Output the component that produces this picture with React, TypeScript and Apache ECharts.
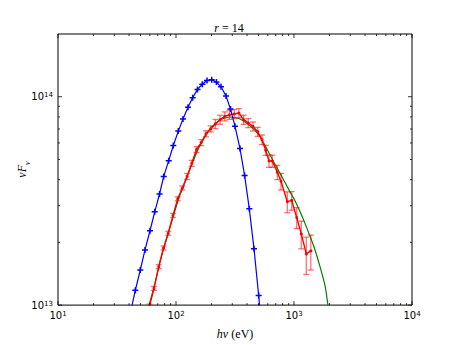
import React, { useEffect, useRef } from "react";
import * as echarts from "echarts";

// Blue model spectrum (photon energy in eV, nuFnu)
const blueEnergy = [41.2, 45.2, 49.8, 54.6, 60.2, 66.0, 72.5, 78.7, 86.7, 94.9, 104.6, 114.6, 126.4, 138.5, 152.1, 167.1, 183.1, 200.7, 220.0, 240.7, 265.3, 289.6, 316.0, 348.6, 381.4, 418.1, 458.1, 502.0, 551.0];
const blueFlux = [9.27e12, 1.177e13, 1.474e13, 1.839e13, 2.274e13, 2.803e13, 3.413e13, 4.147e13, 4.935e13, 5.831e13, 6.84e13, 7.82e13, 8.91e13, 9.9e13, 1.084e14, 1.148e14, 1.196e14, 1.206e14, 1.176e14, 1.116e14, 1.008e14, 8.72e13, 7.22e13, 5.64e13, 4.19e13, 2.896e13, 1.866e13, 1.111e13, 6.06e12];

// Red data points with errors
const redEnergy = [59.6, 65.1, 71.4, 78.4, 85.9, 94.3, 103.4, 113.3, 124.2, 136.1, 149.2, 163.5, 179.6, 196.8, 215.8, 236.5, 259.2, 284.1, 311.3, 341.3, 374.1, 410.0, 449.4, 492.6, 535.6, 575.7, 614.0, 654.8, 722.1, 775.9, 877.7, 956.1, 1054, 1153, 1271, 1388];
const redFlux = [9.89e12, 1.203e13, 1.529e13, 1.88e13, 2.213e13, 2.692e13, 3.238e13, 3.65e13, 4.147e13, 4.792e13, 5.58e13, 6.023e13, 6.642e13, 7.013e13, 7.405e13, 7.76e13, 8.054e13, 8.195e13, 8.258e13, 8.349e13, 7.76e13, 7.485e13, 7.204e13, 6.788e13, 6.223e13, 5.538e13, 4.914e13, 4.914e13, 4.345e13, 3.927e13, 3.135e13, 3.18e13, 2.634e13, 2.196e13, 1.761e13, 1.82e13];
const redError = [2.2e11, 2.6e11, 3.4e11, 4.1e11, 4.9e11, 5.9e11, 7.1e11, 8.0e11, 1.38e12, 1.59e12, 1.85e12, 2.0e12, 2.21e12, 2.33e12, 3.72e12, 3.9e12, 4.04e12, 4.11e12, 4.15e12, 4.19e12, 3.9e12, 3.76e12, 3.62e12, 3.41e12, 3.3e12, 3.1e12, 3.32e12, 3.32e12, 3.44e12, 3.57e12, 3.6e12, 3.27e12, 3.03e12, 3.34e12, 3.58e12, 3.47e12];

// Green fit curve
const modelEnergy = [56.8, 59.1, 66.4, 73.2, 80.7, 89.0, 98.1, 108.1, 119.2, 131.4, 144.9, 159.7, 176.1, 194.1, 214.0, 236.0, 260.2, 286.8, 316.2, 348.6, 384.3, 423.8, 467.2, 515.1, 567.8, 626.2, 690.2, 761.1, 838.9, 925.0, 1020, 1124, 1239, 1366, 1507, 1661, 1831, 1941, 2019];
const modelFlux = [9.07e12, 1.0e13, 1.27e13, 1.614e13, 1.963e13, 2.362e13, 2.843e13, 3.383e13, 3.896e13, 4.489e13, 5.171e13, 5.831e13, 6.429e13, 7.013e13, 7.405e13, 7.734e13, 7.904e13, 7.991e13, 7.948e13, 7.82e13, 7.568e13, 7.246e13, 6.9e13, 6.429e13, 5.831e13, 5.256e13, 4.74e13, 4.298e13, 3.876e13, 3.495e13, 3.169e13, 2.812e13, 2.467e13, 2.142e13, 1.839e13, 1.529e13, 1.243e13, 1.0e13, 8.87e12];

// Axes
const xMin = 10;
const xMax = 10000;
const yMin = 1e13;
const yMax = 2e14;
const xMajorTicks = [10, 100, 1000, 10000];
const yMajorTicks = [1e13, 1e14];
const minorMultipliers = [2, 3, 4, 5, 6, 7, 8, 9];

const PLUS = "path://M-3,-0.75H-0.75V-3H0.75V-0.75H3V0.75H0.75V3H-0.75V0.75H-3Z";

function powLabel(v: number) {
  const l = Math.log10(v);
  const e = Math.round(l);
  if (Math.abs(l - e) > 1e-6) return "";
  return `{b|10}{s|${e}}`;
}

const labelRich = {
  b: { fontSize: 10, fontFamily: "DejaVu Sans", color: "#000", lineHeight: 10, verticalAlign: "bottom" },
  s: { fontSize: 7, fontFamily: "DejaVu Sans", color: "#000", lineHeight: 7, padding: [0, 0, 6, 0], verticalAlign: "top" },
};

const serifItalic = { fontFamily: "Liberation Serif", fontStyle: "italic", fontWeight: "normal", fontSize: 12, color: "#000" };
const serifRoman = { fontFamily: "Liberation Serif", fontStyle: "normal", fontWeight: "normal", fontSize: 12, color: "#000" };

export default function App() {
  const ref = useRef<HTMLDivElement>(null);
  useEffect(() => {
    if (!ref.current) return;
    const chart = echarts.init(ref.current, undefined, { renderer: "svg" });
    const errData = redEnergy.map((e, i) => [e, redFlux[i] - redError[i], redFlux[i] + redError[i]]);
    const option: any = {
      animation: false,
      backgroundColor: "#fff",
      title: {
        text: "{i|r}{n| = 14}",
        left: "center",
        top: 17,
        textStyle: {
          fontWeight: "normal",
          rich: { i: serifItalic, n: serifRoman },
        },
      },
      grid: { left: 58, top: 34, width: 354, height: 275, show: true, borderColor: "#000", borderWidth: 1, backgroundColor: "#fff" },
      xAxis: {
        type: "log",
        logBase: 10,
        min: xMin,
        max: xMax,
        axisLine: { show: false },
        axisTick: { show: false },
        splitLine: { show: false },
        axisLabel: { formatter: powLabel, margin: 5, rich: labelRich },
        name: "{i|hν} {n|(eV)}",
        nameLocation: "middle",
        nameGap: 22,
        nameTextStyle: { rich: { i: serifItalic, n: serifRoman } },
      },
      yAxis: {
        type: "log",
        logBase: 10,
        min: yMin,
        max: yMax,
        axisLine: { show: false },
        axisTick: { show: false },
        splitLine: { show: false },
        axisLabel: { formatter: powLabel, margin: 5, rich: labelRich },
        name: "{i|νF}{sub|ν}",
        nameLocation: "middle",
        nameRotate: 90,
        nameGap: 30,
        nameMoveOverlap: false,
        nameTextStyle: {
          rich: {
            i: { ...serifItalic, lineHeight: 12, verticalAlign: "top" },
            sub: { ...serifItalic, fontSize: 8, lineHeight: 8, padding: [7, 0, 0, 0], verticalAlign: "top" },
          },
        },
      },
      series: [
        {
          type: "line",
          name: "fit",
          data: modelEnergy.map((e, i) => [e, modelFlux[i]]),
          showSymbol: false,
          symbol: "none",
          smooth: 0.3,
          lineStyle: { color: "#008000", width: 1.2 },
          z: 2,
        },
        {
          type: "custom",
          name: "errors",
          data: errData,
          encode: { x: 0, y: [1, 2] },
          z: 3,
          renderItem: (params: any, api: any) => {
            const x = api.value(0);
            const lo = api.coord([x, api.value(1)]);
            const hi = api.coord([x, api.value(2)]);
            const cs = params.coordSys;
            const top = cs.y;
            const bot = cs.y + cs.height;
            const y1 = Math.max(hi[1], top);
            const y2 = Math.min(lo[1], bot);
            if (y1 >= y2) return null;
            const st = { stroke: "rgba(255,0,0,0.55)", lineWidth: 1.3 };
            const children: any[] = [
              { type: "line", shape: { x1: lo[0], y1, x2: lo[0], y2 }, style: st },
            ];
            if (hi[1] >= top && hi[1] <= bot) children.push({ type: "line", shape: { x1: hi[0] - 3, y1: hi[1], x2: hi[0] + 3, y2: hi[1] }, style: st });
            if (lo[1] >= top && lo[1] <= bot) children.push({ type: "line", shape: { x1: lo[0] - 3, y1: lo[1], x2: lo[0] + 3, y2: lo[1] }, style: st });
            return { type: "group", children };
          },
        },
        {
          type: "line",
          name: "data",
          data: redEnergy.map((e, i) => [e, redFlux[i]]),
          symbol: "circle",
          symbolSize: 3,
          showAllSymbol: true,
          itemStyle: { color: "#ff0000" },
          lineStyle: { color: "#ff0000", width: 1.4 },
          z: 4,
        },
        {
          type: "line",
          name: "blue",
          data: blueEnergy.map((e, i) => [e, blueFlux[i]]),
          symbol: PLUS,
          symbolSize: 6,
          showAllSymbol: true,
          itemStyle: { color: "#0000ff" },
          lineStyle: { color: "#0000ff", width: 1.2 },
          z: 5,
        },
      ],
    };
    chart.setOption(option);

    // ticks on all four sides (matplotlib style, inside)
    const left = chart.convertToPixel({ xAxisIndex: 0 }, xMin) as number;
    const right = chart.convertToPixel({ xAxisIndex: 0 }, xMax) as number;
    const bottom = chart.convertToPixel({ yAxisIndex: 0 }, yMin) as number;
    const topPx = chart.convertToPixel({ yAxisIndex: 0 }, yMax) as number;
    const g: any[] = [];
    const tickStyle = { stroke: "#000", lineWidth: 0.8 };
    const addX = (v: number, len: number) => {
      const p = chart.convertToPixel({ xAxisIndex: 0 }, v) as number;
      g.push({ type: "line", silent: true, shape: { x1: p, y1: bottom, x2: p, y2: bottom - len }, style: tickStyle, z: 10 });
      g.push({ type: "line", silent: true, shape: { x1: p, y1: topPx, x2: p, y2: topPx + len }, style: tickStyle, z: 10 });
    };
    const addY = (v: number, len: number) => {
      const p = chart.convertToPixel({ yAxisIndex: 0 }, v) as number;
      g.push({ type: "line", silent: true, shape: { x1: left, y1: p, x2: left + len, y2: p }, style: tickStyle, z: 10 });
      g.push({ type: "line", silent: true, shape: { x1: right, y1: p, x2: right - len, y2: p }, style: tickStyle, z: 10 });
    };
    xMajorTicks.forEach((v) => addX(v, 4));
    for (let k = 1; k <= 3; k++) minorMultipliers.forEach((m) => addX(m * Math.pow(10, k), 2));
    yMajorTicks.forEach((v) => addY(v, 4));
    minorMultipliers.forEach((m) => addY(m * 1e13, 2));
    chart.setOption({ graphic: g });

    return () => chart.dispose();
  }, []);
  return <div ref={ref} style={{ position: "fixed", left: 0, top: 0, width: 458, height: 345, background: "#fff" }} />;
}
